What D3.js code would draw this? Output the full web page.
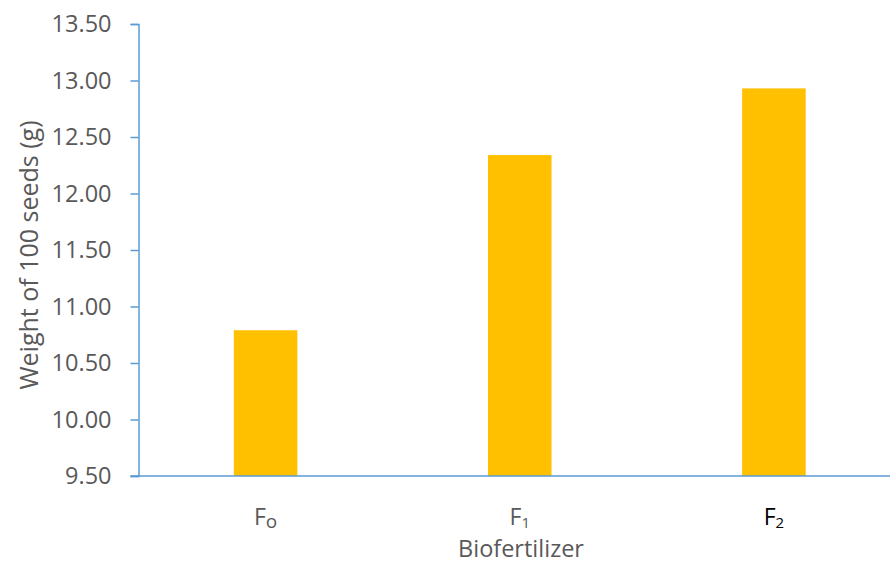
<!DOCTYPE html>
<html><head><meta charset="utf-8">
<script src="https://cdn.jsdelivr.net/npm/d3@7"></script>
<style>body{margin:0;background:#fff}svg{display:block}</style>
</head><body>
<svg id="chart" width="890" height="566"></svg>
<script>
const categories = ["F", "F", "F"];
const subscripts = ["o", "1", "2"];
const labelColors = ["#595959", "#595959", "#000000"];
const values = [10.79, 12.34, 12.93];
const yTicks = [9.5, 10.0, 10.5, 11.0, 11.5, 12.0, 12.5, 13.0, 13.5];
const yTitle = "Weight of 100 seeds (g)";
const xTitle = "Biofertilizer";

const svg = d3.select("#chart");
const font = "'Open Sans', 'Liberation Sans', sans-serif";
const axisColor = "#5B9BD5";
const textColor = "#595959";

const mLeft = 138.5, mRight = 901, mTop = 24, mBottom = 476;
const keys = categories.map((c, i) => i);
const x = d3.scaleBand().domain(keys).range([mLeft, mRight]).paddingInner(0.75).paddingOuter(0.375);
const y = d3.scaleLinear().domain([9.5, 13.5]).range([mBottom, mTop]);

// bars
svg.append("g").selectAll("rect").data(values).join("rect")
  .attr("x", (d, i) => x(i))
  .attr("width", x.bandwidth())
  .attr("y", d => y(d))
  .attr("height", d => y(9.5) - y(d))
  .attr("fill", "#FFC000");

// y axis
const yAxis = svg.append("g").attr("transform", `translate(${mLeft},0)`)
  .call(d3.axisLeft(y).tickValues(yTicks).tickFormat(d3.format(".2f")).tickSize(8).tickPadding(19));
yAxis.select(".domain").attr("stroke", axisColor).attr("stroke-width", 1.5);
yAxis.selectAll(".tick line").attr("stroke", axisColor).attr("stroke-width", 1.5);
yAxis.selectAll(".tick text").attr("fill", textColor).attr("font-family", font).attr("font-size", 23.5);

// x axis
svg.append("line").attr("x1", mLeft - 8).attr("x2", 890).attr("y1", y(9.5)).attr("y2", y(9.5))
  .attr("stroke", axisColor).attr("stroke-width", 1.5);

const xl = svg.append("g").selectAll("text").data(keys).join("text")
  .attr("x", d => x(d) + x.bandwidth() / 2)
  .attr("y", 525)
  .attr("text-anchor", "middle")
  .attr("font-family", font).attr("font-size", 23)
  .attr("fill", d => labelColors[d]);
xl.append("tspan").text(d => categories[d]);
xl.append("tspan").attr("font-size", d => subscripts[d] === "o" ? 19 : 15).attr("dy", 3).text(d => subscripts[d]);

svg.append("text").attr("x", 521).attr("y", 557).attr("text-anchor", "middle")
  .attr("font-family", font).attr("font-size", 23.5).attr("fill", textColor).text(xTitle);

svg.append("text").attr("transform", "translate(38,255) rotate(-90)").attr("text-anchor", "middle")
  .attr("font-family", font).attr("font-size", 25).attr("fill", textColor).text(yTitle);
</script>
</body></html>
